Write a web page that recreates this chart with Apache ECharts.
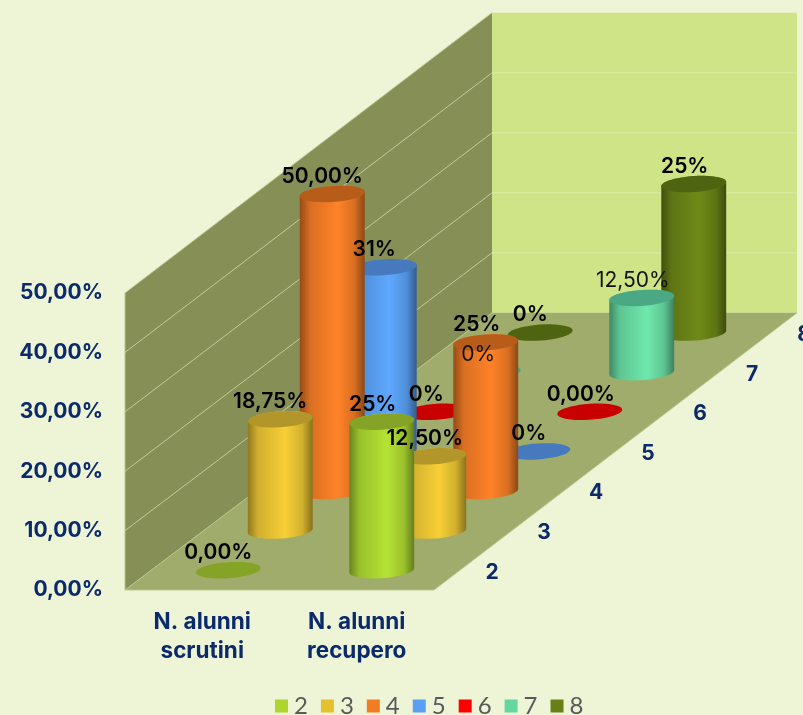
<!DOCTYPE html>
<html><head><meta charset="utf-8">
<style>html,body{margin:0;padding:0;background:#EEF5D6;overflow:hidden}#c{width:803px;height:715px}</style>
<script src="https://cdn.jsdelivr.net/npm/echarts@6/dist/echarts.min.js"></script>
</head><body><div id="c"></div>
<script>
const categories = ['N. alunni\nscrutini', 'N. alunni\nrecupero'];
const depthNames = ['2', '3', '4', '5', '6', '7', '8'];
const yTicks = [0, 10, 20, 30, 40, 50];
const values2 = [0, 25];
const values3 = [18.75, 12.5];
const values4 = [50, 25];
const values5 = [31, 0];
const values6 = [0, 0];
const values7 = [0, 12.5];
const values8 = [0, 25];
const labels2 = ['0,00%', '25%'];
const labels3 = ['18,75%', '12,50%'];
const labels4 = ['50,00%', '25%'];
const labels5 = ['31%', '0%'];
const labels6 = ['0%', '0,00%'];
const labels7 = ['0%', '12,50%'];
const labels8 = ['0%', '25%'];

const allValues = [values2, values3, values4, values5, values6, values7, values8];
const allLabels = [labels2, labels3, labels4, labels5, labels6, labels7, labels8];
const legendColors = ['#ADD42F', '#E6C12F', '#F27C22', '#5B9FF5', '#FF0000', '#66D6A0', '#678016'];
const bodyColors = ['#B5E334', '#F7CF36', '#FF8228', '#5EA8FF', '#FF0000', '#6FE8AC', '#6F8A18'];
const topColors = ['#84A327', '#B3962A', '#B85C1A', '#4679BD', '#C80000', '#4BA884', '#4F6411'];

const STEP_X = 52, STEP_Y = -39.6, SLOPE = 0.065, RY = 8;
const WALL_SHIFT = 3, BACK_SCALE = 1.01;
const INK = '#0B2A6B';
const FONT = 'Inter, "Open Sans", sans-serif';
const LIGHT_FONT = 'Lato, "Open Sans", sans-serif';

function shade(hex, f) {
  const n = parseInt(hex.slice(1), 16);
  const p = s => Math.round(((n >> s) & 255) * f);
  return 'rgb(' + p(16) + ',' + p(8) + ',' + p(0) + ')';
}
function arc(cx, cy, rx, from, to) {
  const pts = [];
  for (let i = 0; i <= 40; i++) {
    const t = from + (to - from) * i / 40;
    const x = rx * Math.cos(t);
    pts.push([cx + x, cy + RY * Math.sin(t) - SLOPE * x]);
  }
  return pts;
}
function cylinder(depth) {
  return function (params, api) {
    const cat = api.value(0), v = api.value(1);
    const b = api.coord([cat, 0]), t = api.coord([cat, v]);
    const rx = api.size([1, 0])[0] * 0.21;
    const ox = STEP_X * (depth + 0.5), oy = STEP_Y * (depth + 0.5);
    const cx = b[0] + ox - cat, by = b[1] + oy, ty = t[1] + oy;
    const children = [];
    if (v > 0) {
      const pts = arc(cx, by, rx, 0, Math.PI).concat(arc(cx, ty, rx, Math.PI, 2 * Math.PI));
      const c = bodyColors[depth];
      children.push({
        type: 'polygon', shape: { points: pts },
        style: { fill: { type: 'linear', x: 0, y: 0, x2: 1, y2: 0, colorStops: [
          { offset: 0, color: shade(c, 0.58) },
          { offset: 0.16, color: shade(c, 0.85) },
          { offset: 0.58, color: c },
          { offset: 0.84, color: shade(c, 0.85) },
          { offset: 1, color: shade(c, 0.55) }] } }
      });
    }
    children.push({
      type: 'polygon', shape: { points: arc(cx, ty, rx, 0, 2 * Math.PI) },
      style: { fill: topColors[depth] }
    });
    return { type: 'group', children };
  };
}
const cylinderSeries = depthNames.map((name, d) => ({
  name, type: 'custom', coordinateSystem: 'cartesian2d', silent: true, animation: false,
  z: 10 - d, itemStyle: { color: legendColors[d] },
  renderItem: cylinder(d), clip: false,
  encode: { x: 0, y: 1 },
  data: allValues[d].map((v, c) => [c, v])
}));

const wallsSeries = {
  type: 'custom', silent: true, animation: false, z: 1, clip: false,
  encode: { x: 0, y: 1 }, data: [[0, 0]],
  renderItem(params, api) {
    const g = params.coordSys;
    const x0 = g.x, x1 = g.x + g.width, y0 = g.y + g.height, yt = g.y;
    const dx = STEP_X * depthNames.length, dy = STEP_Y * depthNames.length;
    const bx0 = x0 + dx + WALL_SHIFT, bx1 = x1 + dx - 1, by0 = y0 + dy, byt = by0 - g.height * BACK_SCALE;
    const edge = { stroke: '#B9C48F', lineWidth: 1, fill: 'none' };
    return { type: 'group', children: [
      { type: 'polygon', shape: { points: [[bx0, byt], [bx1, byt], [bx1, by0], [bx0, by0]] }, style: { fill: '#CFE487' } },
      { type: 'polygon', shape: { points: [[x0, yt], [bx0, byt], [bx0, by0], [x0, y0]] }, style: { fill: '#868F55' } },
      { type: 'polygon', shape: { points: [[x0, y0], [x1, y0], [bx1, by0], [bx0, by0]] }, style: { fill: '#9FAC6B' } },
      { type: 'polyline', shape: { points: [[bx1, by0], [x1, y0], [x0, y0]] }, style: edge },
      { type: 'polyline', shape: { points: [[x0, y0], [bx0, by0]] }, style: edge },
      { type: 'polyline', shape: { points: [[x0, y0], [x0, yt], [bx0, byt]] }, style: edge }
    ] };
  }
};
const gridLineSeries = {
  type: 'custom', silent: true, animation: false, z: 1, clip: false,
  encode: { x: 0, y: 1 }, data: yTicks.slice(1, -1).map(v => [0, v]),
  renderItem(params, api) {
    const g = params.coordSys;
    const y = api.coord([0, api.value(1)])[1];
    const y0 = g.y + g.height;
    const dx = STEP_X * depthNames.length, dy = STEP_Y * depthNames.length;
    const bx0 = g.x + dx + WALL_SHIFT, bx1 = g.x + g.width + dx - 1;
    const by = y0 + dy - (y0 - y) * BACK_SCALE;
    return { type: 'group', children: [
      { type: 'line', shape: { x1: g.x, y1: y, x2: bx0, y2: by }, style: { stroke: '#C3CBA0', lineWidth: 1 } },
      { type: 'line', shape: { x1: bx0, y1: by, x2: bx1, y2: by }, style: { stroke: '#DCEAA8', lineWidth: 1 } }
    ] };
  }
};
const labelRows = [];
allValues.forEach((vals, d) => vals.forEach((v, c) => labelRows.push([c, v, d])));
const labelSeries = {
  type: 'custom', silent: true, animation: false, z: 30, clip: false,
  encode: { x: 0, y: 1 }, data: labelRows,
  renderItem(params, api) {
    const c = api.value(0), d = api.value(2);
    const t = api.coord([c, api.value(1)]);
    const light = depthNames[d] === '7';
    return {
      type: 'text',
      style: {
        text: allLabels[d][c],
        x: t[0] + STEP_X * (d + 0.5) - 10, y: t[1] + STEP_Y * (d + 0.5) - 17.5,
        align: 'center', verticalAlign: 'middle',
        fill: light ? '#111' : '#000',
        font: (light ? '400 21px ' : '600 21px ') + FONT
      }
    };
  }
};
const depthAxisSeries = {
  type: 'custom', silent: true, animation: false, z: 2, clip: false,
  encode: { x: 0, y: 1 }, data: depthNames.map((n, i) => [1, 0, i]),
  renderItem(params, api) {
    const g = params.coordSys, i = api.value(2);
    return {
      type: 'text',
      style: {
        text: depthNames[i],
        x: g.x + g.width + STEP_X * (i + 0.5) + 32, y: g.y + g.height + STEP_Y * (i + 0.5) + 2,
        align: 'center', verticalAlign: 'middle', fill: INK,
        font: '700 21px ' + FONT
      }
    };
  }
};

const chart = echarts.init(document.getElementById('c'), null, { renderer: 'canvas' });
chart.setOption({
  backgroundColor: '#EEF5D6',
  animation: false,
  tooltip: { show: false },
  legend: {
    data: depthNames, left: 270, top: 689, itemWidth: 13, itemHeight: 13, itemGap: 13,
    icon: 'rect', selectedMode: false,
    textStyle: { color: '#595959', fontSize: 24, fontFamily: LIGHT_FONT, padding: [0, 0, 0, 1] }
  },
  grid: { left: 125, top: 293, width: 309, height: 297 },
  xAxis: {
    type: 'category', data: categories,
    axisLine: { show: false }, axisTick: { show: false }, splitLine: { show: false },
    axisLabel: { color: INK, fontSize: 22.5, fontWeight: 700, fontFamily: FONT, lineHeight: 29, margin: 18 }
  },
  yAxis: {
    type: 'value', min: 0, max: 50, interval: 10,
    axisLine: { show: false }, axisTick: { show: false }, splitLine: { show: false },
    axisLabel: {
      color: INK, fontSize: 21, fontWeight: 700, fontFamily: FONT, margin: 22, padding: [6, 0, 0, 0],
      formatter: v => v.toFixed(2).replace('.', ',') + '%'
    }
  },
  series: [wallsSeries, gridLineSeries, depthAxisSeries].concat(cylinderSeries, [labelSeries])
});
</script></body></html>
